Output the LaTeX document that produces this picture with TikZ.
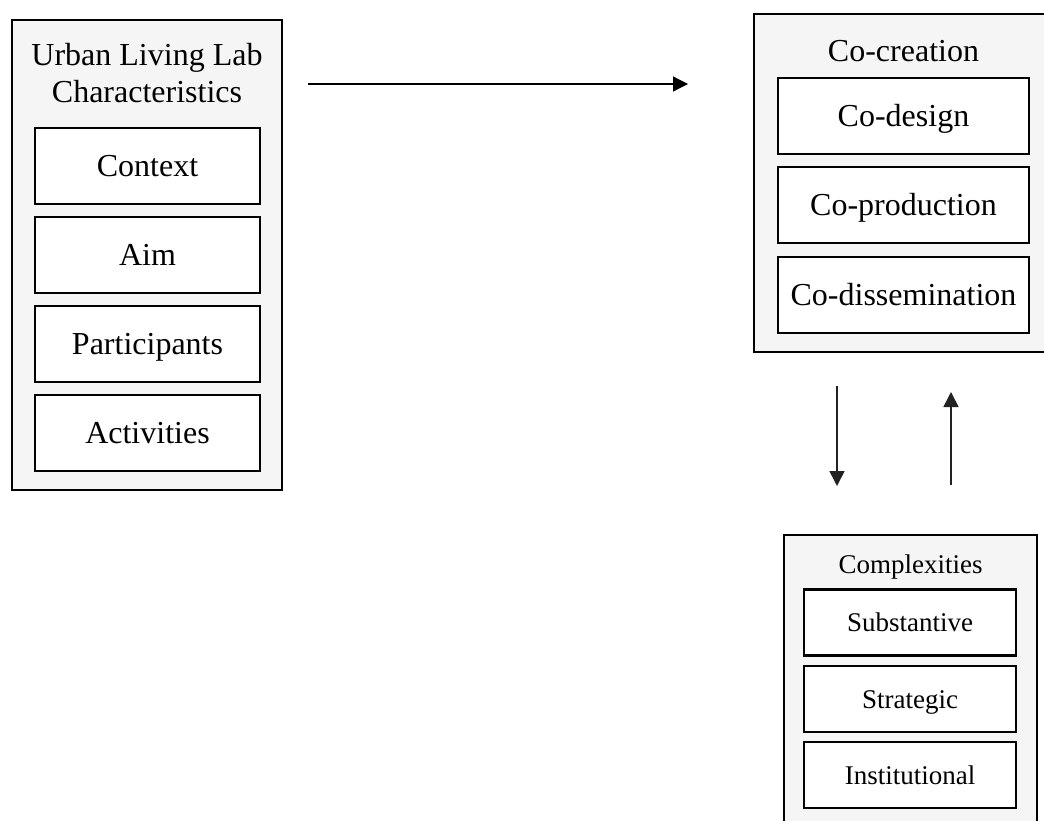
\documentclass[tikz,border=0pt]{standalone}
\usepackage{fontspec}
\setmainfont{Liberation Serif}
\usetikzlibrary{arrows.meta}
\definecolor{outerfill}{HTML}{F5F5F5}
\definecolor{linegray}{HTML}{222222}
\begin{document}
\begin{tikzpicture}[x=1pt,y=-1pt,
  outerbox/.style={draw=black, line width=2pt, fill=outerfill},
  bigtext/.style={font=\fontsize{32}{37}\selectfont, inner sep=0pt},
  smalltext/.style={font=\fontsize{27}{31}\selectfont, inner sep=0pt},
  innerbig/.style={draw=black, line width=2.4pt, fill=white, inner sep=0pt,
    minimum width=225pt, minimum height=76pt, text height=21pt, text depth=0pt,
    font=\fontsize{32}{37}\selectfont},
  innerco/.style={innerbig, minimum width=251pt},
  innersmall/.style={draw=black, line width=2.2pt, fill=white, inner sep=0pt,
    minimum width=212pt, minimum height=66pt, text height=18pt, text depth=0pt,
    font=\fontsize{27}{31}\selectfont},
  flowarrow/.style={draw=linegray, line width=1.6pt, -{Triangle[length=15pt,width=15pt]}}
]
\useasboundingbox (0,0) rectangle (1044,820);
\clip (0,0) rectangle (1044,820);
\fill[white] (0,0) rectangle (1044,820);

% Left box
\draw[outerbox] (12,20) rectangle (282,490);
\node[bigtext, anchor=base] (ull1) at (147,65) {Urban Living Lab};
\node[bigtext, anchor=base] (ull2) at (147,102) {Characteristics};
\node[innerbig, yshift=-2pt] (context) at (147.5,164) {Context};
\node[innerbig, yshift=-2pt] (aim) at (147.5,253) {Aim};
\node[innerbig, yshift=-2pt] (part) at (147.5,342) {Participants};
\node[innerbig, yshift=-2pt] (act) at (147.5,431) {Activities};

% Co-creation box
\draw[outerbox] (754,14) rectangle (1053,352);
\node[bigtext, anchor=base] (cocr) at (903.5,61) {Co-creation};
\node[innerco, yshift=-2pt] (codes) at (903.5,114) {Co-design};
\node[innerco, yshift=-2pt] (coprod) at (903.5,203) {Co-production};
\node[innerco, yshift=-2pt] (codiss) at (903.5,293) {Co-dissemination};

% Complexities box
\draw[outerbox] (784,535) rectangle (1037,840);
\node[smalltext, anchor=base] (compl) at (910.5,573) {Complexities};
\node[innersmall, yshift=-2pt] (subst) at (910,620.5) {Substantive};
\node[innersmall, yshift=-2pt] (strat) at (910,697) {Strategic};
\node[innersmall, yshift=-2pt] (inst) at (910,773) {Institutional};

% Arrows
\coordinate (h1) at (308,84);
\coordinate (h2) at (688,84);
\coordinate (d1) at (837,386);
\coordinate (d2) at (837,486);
\coordinate (u1) at (951,485);
\coordinate (u2) at (951,392);
\draw[flowarrow, draw=black, line width=1.3pt] (h1) -- (h2);
\draw[flowarrow] (d1) -- (d2);
\draw[flowarrow] (u1) -- (u2);
\end{tikzpicture}
\end{document}
